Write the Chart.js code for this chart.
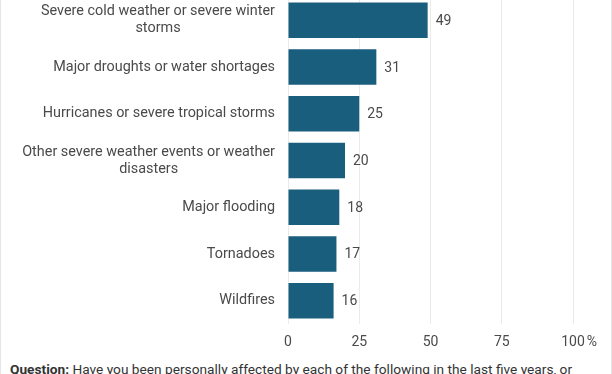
<!DOCTYPE html>
<html>
<head>
<meta charset="utf-8">
<script src="https://cdn.jsdelivr.net/npm/chart.js@4/dist/chart.umd.min.js"></script>
<style>
  html, body { margin: 0; padding: 0; background: #fff; overflow: hidden; }
  body { width: 612px; height: 374px; position: relative; font-family: Roboto, sans-serif; }
  .marco { position: absolute; left: 0; top: -10px; width: 610px; height: 400px; border: 1px solid #e6e6e6; }
  .grafico { position: absolute; left: 0; top: -3px; width: 612px; height: 360px; }
  .nota { position: absolute; left: 10px; top: 361px; font-size: 13.7px; line-height: 16px; color: #333; white-space: nowrap; }
</style>
</head>
<body>
<div class="marco"></div>
<div class="grafico"><canvas id="eventos"></canvas></div>
<div class="nota"><b>Question:</b> Have you been personally affected by each of the following in the last five years, or</div>

<script>
/* ===================== DATOS ===================== */
const categorias = [
  ["Severe cold weather or severe winter", "storms"],
  ["Major droughts or water shortages"],
  ["Hurricanes or severe tropical storms"],
  ["Other severe weather events or weather", "disasters"],
  ["Major flooding"],
  ["Tornadoes"],
  ["Wildfires"],
];
const porcentajes = [49, 31, 25, 20, 18, 17, 16];
const ticksX = [0, 25, 50, 75, 100];

const colorBarra = "#1a5e7e";
const colorTexto = "#4a4a4a";
const fuenteEtiqueta = "14.4px Roboto";
const fuenteNumero = "14px Roboto";

/* ===================== ETIQUETAS PROPIAS ===================== */
// etiquetas del eje Y: bloque alineado a la derecha, líneas centradas entre sí
const etiquetasY = {
  id: "etiquetasY",
  afterDraw(chart) {
    const ctx = chart.ctx;
    const y = chart.scales.y;
    const x = chart.scales.x;
    ctx.save();
    ctx.font = fuenteEtiqueta;
    ctx.fillStyle = colorTexto;
    ctx.textAlign = "center";
    ctx.textBaseline = "middle";
    const derecha = x.left - 13;
    const alto = 17;
    categorias.forEach((lineas, i) => {
      const ancho = Math.max(...lineas.map((l) => ctx.measureText(l).width));
      const cy = y.getPixelForTick(i);
      const y0 = cy - ((lineas.length - 1) * alto) / 2;
      lineas.forEach((l, k) => ctx.fillText(l, derecha - ancho / 2, y0 + k * alto));
    });

    // signo % junto al último tick
    ctx.font = fuenteNumero;
    const xs = x.getPixelForValue(100);
    ctx.textAlign = "left";
    ctx.fillText("%", xs + ctx.measureText("100").width / 2 + 2, x.top + 10 + 8.5);
    ctx.restore();
  },
  afterDatasetsDraw(chart) {
    const ctx = chart.ctx;
    ctx.save();
    ctx.font = fuenteNumero;
    ctx.fillStyle = colorTexto;
    ctx.textAlign = "left";
    ctx.textBaseline = "middle";
    chart.getDatasetMeta(0).data.forEach((bar, i) => {
      ctx.fillText(String(porcentajes[i]), bar.x + 8, bar.y + 1);
    });
    ctx.restore();
  },
};

/* ===================== GRÁFICO ===================== */
new Chart(document.getElementById("eventos"), {
  type: "bar",
  data: {
    labels: categorias,
    datasets: [
      {
        data: porcentajes,
        backgroundColor: colorBarra,
        borderWidth: 0,
        categoryPercentage: 0.76,
        barPercentage: 1,
      },
    ],
  },
  plugins: [etiquetasY],
  options: {
    indexAxis: "y",
    responsive: true,
    maintainAspectRatio: false,
    animation: false,
    layout: { padding: { left: 0, right: 39, top: 0, bottom: 0 } },
    plugins: {
      legend: { display: false },
      tooltip: { enabled: false },
    },
    scales: {
      x: {
        min: 0,
        max: 100,
        afterBuildTicks: (s) => {
          s.ticks = ticksX.map((v) => ({ value: v }));
        },
        afterFit: (s) => {
          s.height = 33;
        },
        grid: { color: "#ebebeb", lineWidth: 1, drawTicks: false },
        border: { display: false },
        ticks: {
          padding: 10,
          color: colorTexto,
          font: { family: "Roboto", size: 14 },
          maxRotation: 0,
          callback: (v) => String(v),
        },
      },
      y: {
        afterFit: (s) => {
          s.width = 288;
        },
        grid: { display: false },
        border: { display: false },
        ticks: { display: false },
      },
    },
  },
});
</script>
</body>
</html>
